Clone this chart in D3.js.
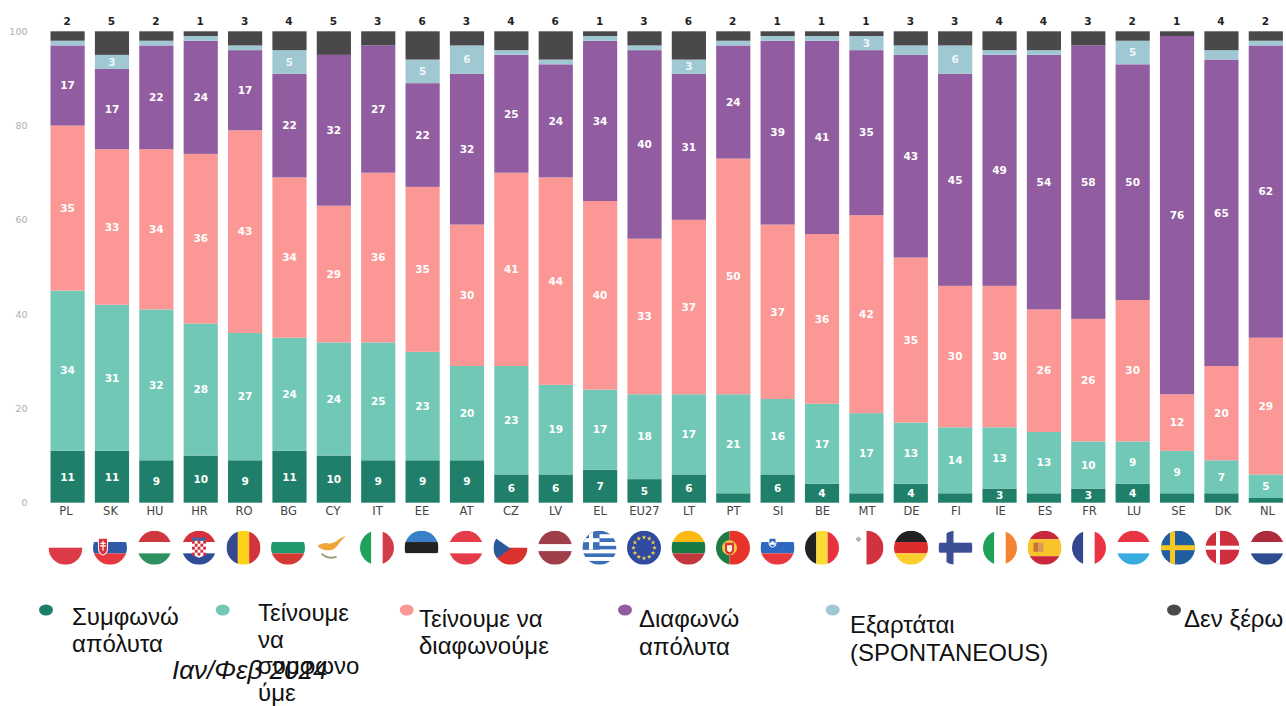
<!DOCTYPE html>
<html lang="el">
<head>
<meta charset="UTF-8">
<title>Ιαν/Φεβ 2024</title>
<script src="https://d3js.org/d3.v7.min.js"></script>
<style>
    html, body { margin: 0; padding: 0; background: #fff; }
    svg { display: block; }
    text { font-family: "DejaVu Sans", sans-serif; }
    .legend-text, .date-text { font-family: "Liberation Sans", Arial, sans-serif; font-size: 24px; fill: #111; }
    .date-text { font-style: italic; font-size: 26px; }
    .axis path, .axis line { display: none; }
</style>
</head>
<body>
<div id="chart"></div>
<script>
// Data
const countries = ["PL","SK","HU","HR","RO","BG","CY","IT","EE","AT","CZ","LV","EL","EU27","LT","PT","SI","BE","MT","DE","FI","IE","ES","FR","LU","SE","DK","NL"];
const totallyAgree    = [11,11,9,10,9,11,10,9,9,9,6,6,7,5,6,2,6,4,2,4,2,3,2,3,4,2,2,1];
const tendAgree       = [34,31,32,28,27,24,24,25,23,20,23,19,17,18,17,21,16,17,17,13,14,13,13,10,9,9,7,5];
const tendDisagree    = [35,33,34,36,43,34,29,36,35,30,41,44,40,33,37,50,37,36,42,35,30,30,26,26,30,12,20,29];
const totallyDisagree = [17,17,22,24,17,22,32,27,22,32,25,24,34,40,31,24,39,41,35,43,45,49,54,58,50,76,65,62];
const depends         = [1,3,1,1,1,5,0,0,5,6,1,1,1,1,3,1,1,1,3,2,6,1,1,0,5,0,2,1];
const dontKnow        = [2,5,2,1,3,4,5,3,6,3,4,6,1,3,6,2,1,1,1,3,3,4,4,3,2,1,4,2];
const yTicks = [0,20,40,60,80,100];

const seriesNames = ["totallyAgree","tendAgree","tendDisagree","totallyDisagree","depends","dontKnow"];
const seriesValues = [totallyAgree,tendAgree,tendDisagree,totallyDisagree,depends,dontKnow];
const seriesColors = ["#1f7f6b","#72c8b6","#fb9795","#925ca0","#a0c8d2","#4a484b"];

const legendLabels = [
    ["Συμφωνώ","απόλυτα"],
    ["Τείνουμε","να","συμφωνο","ύμε"],
    ["Τείνουμε να","διαφωνούμε"],
    ["Διαφωνώ","απόλυτα"],
    ["Εξαρτάται","(SPONTANEOUS)"],
    ["Δεν ξέρω"]
];
const legendDotX = [46,222.7,406.7,625,832.7,1174];
const legendTextX = [72,258,419,639,850,1184];
const legendTextY = [625,621,627,627,633,627];
const legendLineH = [27,26.5,27,28,28,27];
const dateLabel = "Ιαν/Φεβ 2024";

// Flags: direction, colours, optional stripe weights
const flagStripes = {
    PL: ["h",["#ffffff","#dc3a47"]],
    SK: ["h",["#ffffff","#2f5ba6","#e8383f"]],
    HU: ["h",["#d0383f","#ffffff","#2f9060"]],
    HR: ["h",["#d5303c","#ffffff","#2f4c96"]],
    RO: ["v",["#36488f","#fcd116","#d3333c"]],
    BG: ["h",["#ffffff","#1f9a6b","#d33a35"]],
    CY: ["h",["#ffffff"]],
    IT: ["v",["#1fa15a","#ffffff","#d23c48"]],
    EE: ["h",["#3a80c8","#222222","#ffffff"]],
    AT: ["h",["#e43c48","#ffffff","#e43c48"]],
    CZ: ["h",["#ffffff","#d9322f"]],
    LV: ["h",["#9e3f4a","#ffffff","#9e3f4a"],[2,1,2]],
    EL: ["h",["#3b6fb8","#ffffff","#3b6fb8","#ffffff","#3b6fb8","#ffffff","#3b6fb8","#ffffff","#3b6fb8"]],
    EU27: ["h",["#2f4aa0"]],
    LT: ["h",["#fdb913","#1a7a45","#c1393f"]],
    PT: ["v",["#1f7a45","#e8332a"],[2,3]],
    SI: ["h",["#ffffff","#2e68c0","#e8383f"]],
    BE: ["v",["#222222","#fbdc33","#e8323f"]],
    MT: ["v",["#ffffff","#d2323e"]],
    DE: ["h",["#222222","#dd2c2c","#fdcf2e"]],
    FI: ["h",["#ffffff"]],
    IE: ["v",["#1fa15a","#ffffff","#f58432"]],
    ES: ["h",["#c8283a","#f9c32c","#c8283a"],[1,2,1]],
    FR: ["v",["#36468f","#ffffff","#ea3343"]],
    LU: ["h",["#ea3343","#ffffff","#38ace0"]],
    SE: ["h",["#1f5ea0"]],
    DK: ["h",["#cf2e3e"]],
    NL: ["h",["#ae2b3c","#ffffff","#2f4c90"]]
};

function cross(g, color, cx, vw, hh) {
    g.append("rect").attr("x",-flagR).attr("y",-hh).attr("width",flagR*2).attr("height",hh*2).attr("fill",color);
    g.append("rect").attr("x",cx-vw/2).attr("y",-flagR).attr("width",vw).attr("height",flagR*2).attr("fill",color);
}

// Small emblems on top of the stripes
const flagExtras = {
    SK: g => {
        g.append("path").attr("d","M-12,-10H-2V1Q-2,6 -7,8Q-12,6 -12,1Z").attr("fill","#fff");
        g.append("path").attr("d","M-11,-9H-3V1Q-3,5 -7,7Q-11,5 -11,1Z").attr("fill","#d9323c");
        g.append("path").attr("d","M-7.6,-7H-6.4V-5H-4.5V-3.8H-6.4V-2.5H-4V-1.3H-6.4V3H-7.6V-1.3H-10V-2.5H-7.6V-3.8H-9.5V-5H-7.6Z").attr("fill","#fff");
    },
    HR: g => {
        g.append("path").attr("d","M-7,-7H7V3Q7,8 0,10Q-7,8 -7,3Z").attr("fill","#fff");
        d3.range(5).forEach(r => d3.range(5).forEach(c => {
            if ((r+c)%2 === 0) g.append("rect").attr("x",-7+c*2.8).attr("y",-7+r*3).attr("width",2.8).attr("height",3).attr("fill","#d5303c");
        }));
        g.append("rect").attr("x",-7).attr("y",-10).attr("width",14).attr("height",3).attr("fill","#3a66ac");
    },
    CY: g => {
        g.append("path").attr("d","M-15,-2Q-9,-6 -3,-4Q3,-5 7,-9L15,-13Q9,-8 7,-5Q5,-1 0,2Q-6,3 -9,2Q-13,1 -15,-2Z").attr("fill","#eea638");
        g.append("path").attr("d","M-11,6Q-4,12 4,9").attr("fill","none").attr("stroke","#9aa37a").attr("stroke-width",2);
    },
    CZ: g => {
        g.append("path").attr("d","M-17,-11L0,1L-17,13Z").attr("fill","#2a5a9c");
    },
    EL: g => {
        g.append("rect").attr("x",-17).attr("y",-17).attr("width",17).attr("height",19).attr("fill","#3b6fb8");
        g.append("rect").attr("x",-10.5).attr("y",-17).attr("width",4).attr("height",19).attr("fill","#fff");
        g.append("rect").attr("x",-17).attr("y",-9.5).attr("width",17).attr("height",4).attr("fill","#fff");
    },
    EU27: g => {
        const star = d3.symbol().type(d3.symbolStar).size(7)();
        d3.range(12).forEach(i => {
            const a = i*Math.PI/6;
            g.append("path").attr("d",star)
                .attr("transform",`translate(${10.5*Math.cos(a)},${10.5*Math.sin(a)})`)
                .attr("fill","#f5d33f");
        });
    },
    PT: g => {
        g.append("circle").attr("cx",-3.5).attr("r",7.5).attr("fill","#f1c84a");
        g.append("path").attr("d","M-8,-5H1V2Q1,6 -3.5,7Q-8,6 -8,2Z").attr("fill","#d8382e");
        g.append("path").attr("d","M-6,-2.5H-1V1Q-1,4 -3.5,4.5Q-6,4 -6,1Z").attr("fill","#f4f1e8");
    },
    SI: g => {
        g.append("path").attr("d","M-9,-10H-1V-5Q-1,-1 -5,0Q-9,-1 -9,-5Z").attr("fill","#fff");
        g.append("path").attr("d","M-8,-9H-2V-5Q-2,-2 -5,-1Q-8,-2 -8,-5Z").attr("fill","#2e68c0");
        g.append("path").attr("d","M-8,-4L-5,-7L-2,-4V-3H-8Z").attr("fill","#fff");
    },
    MT: g => {
        g.append("path").attr("d","M-10.5,-9.5H-9V-11H-7V-9.5H-5.5V-7.5H-7V-6H-9V-7.5H-10.5Z").attr("fill","#b5a7a9");
    },
    FI: g => cross(g,"#3b4e96",-5.5,7,5),
    SE: g => cross(g,"#f9c81e",-5.5,5,2.5),
    DK: g => cross(g,"#ffffff",-4.5,4,2),
    ES: g => {
        g.append("rect").attr("x",-11).attr("y",-5).attr("width",5).attr("height",9).attr("fill","#c4713a");
        g.append("rect").attr("x",-6).attr("y",-5).attr("width",5).attr("height",9).attr("fill","#d99a5a");
    }
};

const width = 1286, height = 706, flagR = 17, flagY = 547.7;

const svg = d3.select("#chart").append("svg")
    .attr("width", width)
    .attr("height", height);

const x = d3.scaleBand()
    .domain(countries)
    .range([45.4, 1288])
    .paddingInner(0.23)
    .paddingOuter(0.115);

const y = d3.scaleLinear().domain([0,100]).range([502.7,31.3]);

// labels and flags sit on a slightly wider grid than the bars
const xLabel = d3.scalePoint().domain(countries).range([65.5,1267]);

const rows = countries.map((c,i) => {
    const row = {country: c};
    seriesNames.forEach((s,k) => row[s] = seriesValues[k][i]);
    return row;
});
const stacked = d3.stack().keys(seriesNames)(rows);

// Bars
const layers = svg.selectAll("g.layer")
    .data(stacked)
    .enter()
    .append("g")
    .attr("class","layer")
    .attr("fill",(d,i) => seriesColors[i]);

layers.selectAll("rect")
    .data(d => d)
    .enter()
    .append("rect")
    .attr("x", d => x(d.data.country))
    .attr("y", d => y(d[1]))
    .attr("width", x.bandwidth())
    .attr("height", d => y(d[0]) - y(d[1]));

// Values inside the bars, only from 3 upward
stacked.slice(0,5).forEach(layer => {
    svg.append("g").selectAll("text")
        .data(layer.filter(d => d[1] - d[0] >= 3))
        .enter()
        .append("text")
        .attr("x", d => x(d.data.country) + x.bandwidth()/2)
        .attr("y", d => y((d[0]+d[1])/2))
        .attr("dy","0.36em")
        .attr("text-anchor","middle")
        .attr("font-size","10.5px")
        .attr("font-weight","bold")
        .attr("fill", layer.key === "depends" ? "#eef6f7" : "#ffffff")
        .text(d => d[1]-d[0]);
});

// "Don't know" goes above the bar
svg.append("g").selectAll("text")
    .data(rows)
    .enter()
    .append("text")
    .attr("x", d => x(d.country) + x.bandwidth()/2 - 0.5)
    .attr("y", y(100) - 6)
    .attr("text-anchor","middle")
    .attr("font-size","10.5px")
    .attr("font-weight","bold")
    .attr("fill","#222")
    .text(d => d.dontKnow);

// Axes
const yAxis = svg.append("g")
    .attr("class","axis")
    .attr("transform","translate(27.5,0)")
    .call(d3.axisLeft(y).tickValues(yTicks).tickSize(0).tickPadding(0));
yAxis.selectAll("text")
    .style("font-size","9.5px")
    .style("font-family",'"DejaVu Sans", sans-serif')
    .attr("fill","#b0aeaa");

const xAxis = svg.append("g")
    .attr("class","axis")
    .attr("transform","translate(0,504)")
    .call(d3.axisBottom(xLabel).tickSize(0).tickPadding(3));
xAxis.selectAll("text")
    .style("font-size","11.5px")
    .style("font-family",'"DejaVu Sans", sans-serif')
    .attr("fill","#444");

// Flags
const defs = svg.append("defs");
defs.append("clipPath")
    .attr("id","flag-clip")
    .append("circle")
    .attr("r",flagR);
defs.append("filter").attr("id","soft")
    .append("feGaussianBlur").attr("stdDeviation",0.7);

const flags = svg.selectAll("g.flag")
    .data(countries)
    .enter()
    .append("g")
    .attr("class","flag")
    .attr("transform", d => `translate(${xLabel(d)},${flagY})`)
    .append("g")
    .attr("clip-path","url(#flag-clip)");

flags.each(function(code) {
    const g = d3.select(this);
    const [dir, colors, weights] = flagStripes[code];
    const w = weights || colors.map(() => 1);
    const pos = d3.scaleLinear().domain([0,d3.sum(w)]).range([-flagR,flagR]);
    const edges = [0, ...d3.cumsum(w)];
    colors.forEach((c,i) => {
        const a = pos(edges[i]), b = pos(edges[i+1]);
        g.append("rect")
            .attr("x", dir === "v" ? a : -flagR)
            .attr("y", dir === "v" ? -flagR : a)
            .attr("width", dir === "v" ? b-a : flagR*2)
            .attr("height", dir === "v" ? flagR*2 : b-a)
            .attr("fill", c);
    });
    if (flagExtras[code]) flagExtras[code](g);
});

// Legend
svg.append("g").selectAll("ellipse")
    .data(seriesColors)
    .enter()
    .append("ellipse")
    .attr("cx",(d,i) => legendDotX[i])
    .attr("cy",610)
    .attr("rx",7)
    .attr("ry",5.5)
    .attr("fill",d => d)
    .attr("filter","url(#soft)");

legendLabels.forEach((lines,i) => {
    svg.append("text")
        .attr("class","legend-text")
        .selectAll("tspan")
        .data(lines)
        .enter()
        .append("tspan")
        .attr("x",legendTextX[i])
        .attr("y",(d,j) => legendTextY[i] + j*legendLineH[i])
        .text(d => d);
});

svg.append("text")
    .attr("class","date-text")
    .attr("x",172)
    .attr("y",679)
    .text(dateLabel);
</script>
</body>
</html>
